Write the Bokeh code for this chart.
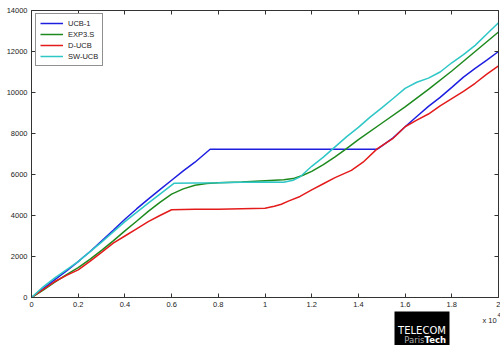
from bokeh.plotting import figure
from bokeh.models import Range1d, LinearAxis, FixedTicker, Label, BoxAnnotation
from bokeh.embed import file_html
from bokeh.resources import INLINE

# ---- data (x in iterations, y cumulative regret) ----
ucb1_x = [0, 500, 1000, 1500, 2000, 2200, 2500, 3000, 3500, 4000, 4500, 5000, 5500, 6000, 6500, 7000, 7650,
          9000, 11000, 13000, 14800, 15500, 16000, 16500, 17000, 17500, 18000, 18500, 19000, 19500, 20000]
ucb1_y = [0, 440, 870, 1300, 1750, 1950, 2230, 2750, 3280, 3820, 4320, 4800, 5260, 5720, 6180, 6600, 7230,
          7230, 7230, 7230, 7230, 7800, 8330, 8830, 9320, 9760, 10250, 10750, 11180, 11580, 12000]

exp3s_x = [0, 500, 1000, 1500, 2000, 2500, 3000, 3500, 4000, 4500, 5000, 5500, 6000, 6500, 7000, 7500, 8000,
           9000, 10000, 10800, 11200, 11600, 12000, 12500, 13000, 13448, 14000, 15000, 16000, 17000, 18000,
           19000, 20000]
exp3s_y = [0, 360, 750, 1120, 1460, 1860, 2300, 2760, 3250, 3720, 4200, 4640, 5040, 5300, 5480, 5560, 5600,
           5640, 5700, 5740, 5800, 5950, 6150, 6480, 6860, 7230, 7700, 8500, 9300, 10150, 11050, 12000, 12950]

ducb_x = [0, 500, 1000, 1500, 2000, 2500, 3000, 3500, 4000, 4500, 5000, 5500, 6000, 7000, 8000, 9000, 10000,
          10400, 10700, 11000, 11500, 12000, 12500, 13000, 13700, 14200, 14800, 15500, 16000, 16500, 17000,
          17500, 18000, 18500, 19000, 19500, 20000]
ducb_y = [0, 390, 780, 1080, 1350, 1760, 2200, 2650, 3000, 3350, 3700, 4000, 4280, 4300, 4300, 4330, 4350,
          4450, 4550, 4700, 4930, 5250, 5550, 5850, 6200, 6600, 7250, 7780, 8330, 8650, 8950, 9350, 9700,
          10050, 10450, 10900, 11300]

swucb_x = [0, 500, 1000, 2000, 3000, 4000, 5000, 6100, 7000, 8000, 9000, 10000, 10800, 11200, 11520, 12000,
           12500, 13000, 13500, 14000, 14500, 15000, 15500, 16000, 16500, 17000, 17500, 18000, 18500, 19000,
           19500, 20000]
swucb_y = [0, 520, 960, 1750, 2700, 3700, 4600, 5570, 5590, 5600, 5620, 5630, 5620, 5720, 5900, 6400, 6850,
           7350, 7850, 8300, 8800, 9250, 9720, 10200, 10500, 10700, 11000, 11450, 11850, 12300, 12850, 13400]

series_names = ["UCB-1", "EXP3.S", "D-UCB", "SW-UCB"]
series_colors = ["#1f1fe0", "#1e8a1e", "#e41b1b", "#2ec6c6"]

x_ticks = [0, 0.2, 0.4, 0.6, 0.8, 1, 1.2, 1.4, 1.6, 1.8, 2]
x_tick_labels = ["0", "0.2", "0.4", "0.6", "0.8", "1", "1.2", "1.4", "1.6", "1.8", "2"]
y_ticks = [0, 2000, 4000, 6000, 8000, 10000, 12000, 14000]
x_min, x_max = 0, 2
y_min, y_max = 0, 14000
x_scale = 1e4

FONT = "Liberation Sans"
AX = "#333333"
W, H = 500, 345
# axes box in canvas pixels
BL, BR, BT, BB = 31, 498, 10, 297
ux = (x_max - x_min) / (BR - BL)
uy = (y_max - y_min) / (BB - BT)

p = figure(width=W, height=H,
           x_range=Range1d(x_min - BL * ux, x_max + (W - BR) * ux),
           y_range=Range1d(y_min - (H - BB) * uy, y_max + BT * uy),
           output_backend="svg", toolbar_location=None,
           min_border=0, background_fill_color="white", border_fill_color="white")
p.grid.visible = False
p.outline_line_color = None
p.xaxis.visible = False
p.yaxis.visible = False

xs = [ucb1_x, exp3s_x, ducb_x, swucb_x]
ys = [ucb1_y, exp3s_y, ducb_y, swucb_y]
for xv, yv, name, col in zip(xs, ys, series_names, series_colors):
    p.line([v / x_scale for v in xv], yv, line_color=col, line_width=1.5, legend_label=name)

def make_axis(ticks, labels, fixed, bounds):
    ax = LinearAxis(ticker=FixedTicker(ticks=ticks),
                    major_label_overrides={t: l for t, l in zip(ticks, labels)},
                    fixed_location=fixed, bounds=bounds)
    ax.axis_line_color = AX
    ax.major_tick_line_color = AX
    ax.minor_tick_line_color = None
    ax.major_tick_in = 4
    ax.major_tick_out = 0
    ax.major_label_text_font = FONT
    ax.major_label_text_color = "#222222"
    ax.major_label_text_font_size = "7.5px"
    ax.major_label_standoff = 4
    return ax

p.add_layout(make_axis(x_ticks, x_tick_labels, y_min, (x_min, x_max)), "below")
p.add_layout(make_axis(y_ticks, [str(t) for t in y_ticks], x_min, (y_min, y_max)), "left")
p.add_layout(make_axis(x_ticks, ["" for t in x_ticks], y_max, (x_min, x_max)), "above")
p.add_layout(make_axis(y_ticks, ["" for t in y_ticks], x_max, (y_min, y_max)), "right")

lg = p.legend[0]
lg.location = (35, H - 66)
lg.margin = 0
lg.padding = 4
lg.spacing = 1
lg.glyph_width = 23
lg.glyph_height = 10
lg.label_height = 10
lg.label_standoff = 5
lg.label_text_font = FONT
lg.label_text_font_size = "7.5px"
lg.label_text_color = "#222222"
lg.border_line_color = "#222222"
lg.border_line_width = 1
lg.background_fill_alpha = 1

def dx(px):
    return x_min + (px - BL) * ux
def dy(py):
    return y_min + (BB - py) * uy

# exponent label
p.add_layout(Label(x=dx(482), y=dy(320), text="x 10",
                   text_font=FONT, text_font_size="7.5px", text_color="#222222",
                   text_baseline="middle"))
p.add_layout(Label(x=dx(497), y=dy(314), text="4",
                   text_font=FONT, text_font_size="5.5px", text_color="#222222",
                   text_baseline="middle"))

# logo
p.add_layout(BoxAnnotation(left=dx(394), right=dx(449), top=dy(311), bottom=dy(345),
                           fill_color="black", fill_alpha=1, line_color=None))
p.add_layout(Label(x=dx(421.5), y=dy(330), text="TELECOM",
                   text_font="DejaVu Sans", text_font_size="10px", text_color="white",
                   text_align="center", text_baseline="middle"))
p.add_layout(Label(x=dx(424), y=dy(339.5), text="Paris",
                   text_font="DejaVu Sans", text_font_size="8.5px", text_color="#b0b0b0",
                   text_align="right", text_baseline="middle"))
p.add_layout(Label(x=dx(424), y=dy(339.5), text="Tech",
                   text_font="DejaVu Sans", text_font_size="8.5px", text_color="white",
                   text_font_style="bold", text_align="left", text_baseline="middle"))

open("out.html", "w").write(file_html(p, INLINE))
